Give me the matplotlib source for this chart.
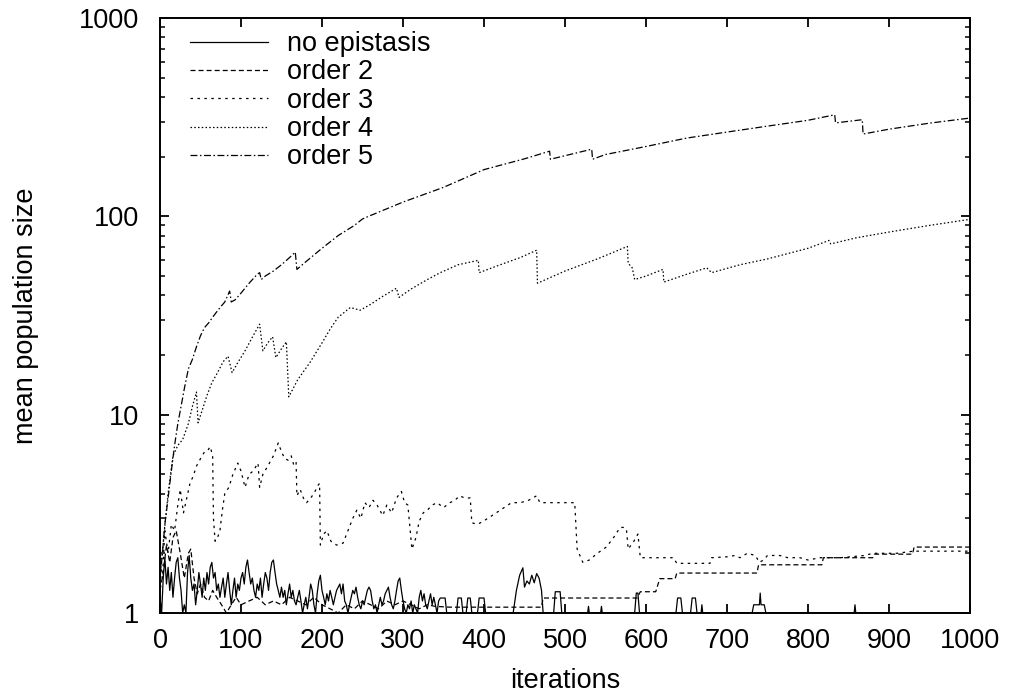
import numpy as np
import matplotlib
matplotlib.use("Agg")
from matplotlib import pyplot as plt
from matplotlib.ticker import FixedLocator, LogLocator, NullFormatter

plt.rcParams['font.family'] = ['Liberation Sans', 'DejaVu Sans']
plt.rcParams['lines.scale_dashes'] = False

# no epistasis: noisy part on a 2-iteration grid, then sparse blips
noep_x_grid = np.arange(0, 352, 2)
noep_y_grid = [
    1.2, 1.0, 1.5, 1.9, 1.4, 1.7, 1.3, 1.6, 1.2, 1.5,
    1.8, 1.9, 1.5, 1.3, 1.0, 1.1, 1.0, 1.6, 1.95, 1.5,
    1.3, 1.4, 1.1, 1.3, 1.6, 1.4, 1.2, 1.5, 1.3, 1.6,
    1.4, 1.7, 1.8, 1.5, 1.6, 1.3, 1.4, 1.2, 1.35, 1.5,
    1.2, 1.4, 1.6, 1.3, 1.1, 1.3, 1.5, 1.2, 1.4, 1.3,
    1.5, 1.6, 1.4, 1.7, 1.85, 1.6, 1.4, 1.5, 1.3, 1.2,
    1.4, 1.3, 1.5, 1.2, 1.4, 1.6, 1.5, 1.3, 1.6, 1.8,
    1.85, 1.6, 1.4, 1.3, 1.2, 1.35, 1.2, 1.3, 1.1, 1.25,
    1.4, 1.2, 1.3, 1.15, 1.1, 1.2, 1.3, 1.15, 1.0, 1.1,
    1.2, 1.05, 1.2, 1.4, 1.3, 1.1, 1.0, 1.25, 1.45, 1.55,
    1.3, 1.2, 1.1, 1.25, 1.15, 1.3, 1.2, 1.1, 1.2, 1.3,
    1.35, 1.4, 1.25, 1.4, 1.15, 1.1, 1.0, 1.1, 1.2, 1.3,
    1.25, 1.35, 1.2, 1.1, 1.05, 1.15, 1.1, 1.2, 1.3, 1.35,
    1.3, 1.15, 1.05, 1.1, 1.0, 1.1, 1.2, 1.1, 1.15, 1.25,
    1.3, 1.35, 1.2, 1.1, 1.05, 1.15, 1.3, 1.45, 1.5, 1.3,
    1.15, 1.05, 1.0, 1.1, 1.05, 1.15, 1.0, 1.1, 1.05, 1.0,
    1.2, 1.3, 1.15, 1.25, 1.1, 1.05, 1.15, 1.25, 1.1, 1.2,
    1.1, 1.0, 1.15, 1.19, 1.19, 1.19,
]
noep_x_tail = [352, 354, 366, 368, 372, 374, 378, 380, 383, 385, 392, 394, 400, 402,
               436, 440, 444, 448, 450, 453, 456, 459, 462, 465, 468, 471, 473,
               486, 488, 494, 496, 528, 529, 530, 544, 545, 546, 586, 588, 590, 592,
               637, 639, 643, 645, 655, 657, 661, 663, 668, 669, 670,
               731, 733, 740, 741, 742, 746, 748, 857, 858, 859, 1000]
noep_y_tail = [1.19, 1.0, 1.0, 1.19, 1.19, 1.0, 1.0, 1.19, 1.19, 1.0, 1.0, 1.19, 1.19, 1.0,
               1.0, 1.3, 1.55, 1.69, 1.35, 1.45, 1.4, 1.55, 1.42, 1.58, 1.5, 1.3, 1.0,
               1.0, 1.28, 1.28, 1.0, 1.0, 1.08, 1.0, 1.0, 1.08, 1.0, 1.0, 1.26, 1.26, 1.0,
               1.0, 1.19, 1.19, 1.0, 1.0, 1.19, 1.19, 1.0, 1.0, 1.1, 1.0,
               1.0, 1.1, 1.1, 1.26, 1.1, 1.1, 1.0, 1.0, 1.1, 1.0, 1.0]

ord2_x = [0, 4, 8, 12, 16, 20, 25, 30, 35, 38, 42, 46, 50, 55, 60, 65, 70, 76, 82, 88,
          94, 100, 110, 120, 130, 140, 150, 160, 170, 180, 190, 200, 210, 220, 230, 240,
          250, 260, 270, 280, 290, 300, 310, 320, 330, 340, 358, 471, 473, 589, 593, 612,
          617, 636, 638, 737, 739, 817, 819, 880, 882, 929, 931, 1000]
ord2_y = [1.3, 1.6, 2.2, 1.8, 2.4, 2.6, 2.0, 1.5, 2.0, 2.1, 1.5, 1.25, 1.4, 1.2, 1.15, 1.3,
          1.2, 1.1, 1.0, 1.1, 1.2, 1.1, 1.15, 1.2, 1.1, 1.15, 1.1, 1.2, 1.15, 1.1, 1.2, 1.1,
          1.05, 1.0, 1.1, 1.05, 1.15, 1.1, 1.05, 1.15, 1.1, 1.15, 1.1, 1.05, 1.1, 1.08, 1.07,
          1.07, 1.19, 1.19, 1.28, 1.28, 1.49, 1.49, 1.59, 1.59, 1.75, 1.75, 1.9, 1.9, 1.98,
          1.98, 2.15, 2.15]

ord3_x = [0, 3, 6, 10, 14, 18, 22, 25, 29, 33, 37, 41, 45, 50, 55, 59, 62, 65, 66, 68,
          71, 74, 77, 80, 85, 90, 96, 100, 105, 110, 115, 121, 123, 127, 133, 140, 146,
          150, 154, 158, 162, 165, 168, 169, 173, 177, 181, 186, 190, 195, 197, 198, 202,
          206, 211, 218, 226, 232, 238, 243, 248, 253, 258, 263, 268, 275, 280, 286, 292,
          298, 302, 306, 311, 316, 320, 325, 330, 336, 342, 350, 358, 364, 370, 376, 383,
          385, 392, 399, 410, 420, 434, 445, 455, 465, 469, 480, 512, 515, 522, 530, 540,
          551, 560, 568, 574, 576, 578, 585, 590, 593, 634, 638, 679, 681, 700, 710, 716,
          725, 735, 740, 745, 750, 765, 775, 790, 800, 815, 840, 870, 880, 910, 930, 1000]
ord3_y = [1.8, 1.5, 2.6, 2.0, 2.8, 2.6, 3.5, 4.2, 3.2, 3.8, 4.5, 4.9, 5.5, 6.0, 6.5, 6.6,
          6.9, 6.2, 3.0, 2.3, 2.4, 2.6, 3.3, 4.0, 4.3, 5.0, 5.7, 5.2, 4.3, 5.0, 5.2, 5.7,
          4.3, 5.0, 5.5, 6.2, 7.2, 6.5, 6.0, 5.9, 6.2, 5.6, 5.8, 3.9, 4.2, 3.8, 3.6, 3.8,
          4.0, 4.4, 4.5, 2.2, 2.5, 2.6, 2.3, 2.2, 2.25, 2.6, 3.0, 3.3, 3.0, 3.6, 3.4, 3.7,
          3.5, 3.1, 3.5, 3.2, 3.8, 4.1, 3.6, 3.5, 2.1, 2.4, 2.9, 3.2, 3.3, 3.5, 3.6, 3.4,
          3.6, 3.7, 3.9, 3.8, 3.8, 2.85, 2.8, 2.9, 3.1, 3.3, 3.6, 3.6, 3.7, 3.9, 3.6, 3.6,
          3.6, 2.1, 1.8, 1.85, 2.0, 2.15, 2.4, 2.7, 2.7, 2.6, 2.1, 2.3, 2.5, 1.9, 1.9, 1.78,
          1.78, 1.9, 1.92, 1.95, 1.9, 2.0, 1.95, 1.8, 1.85, 1.95, 1.95, 1.9, 1.9, 1.85, 1.9,
          1.9, 1.95, 2.0, 2.0, 2.05, 2.05]

ord4_x = [0, 5, 10, 16, 22, 28, 35, 40, 45, 47, 52, 58, 64, 70, 78, 84, 89, 95, 105, 115,
          123, 127, 133, 139, 143, 150, 156, 159, 170, 185, 200, 210, 220, 235, 247, 260,
          275, 292, 295, 310, 330, 346, 368, 393, 394, 420, 445, 465, 466, 500, 540, 577,
          578, 583, 586, 600, 621, 622, 650, 675, 681, 716, 750, 800, 826, 828, 860, 905,
          950, 1000]
ord4_y = [1.5, 2.5, 4.0, 6.2, 7.0, 7.5, 9.0, 11, 13, 9.1, 10.5, 12.5, 14.5, 16, 18.5, 19.7,
          16.3, 18, 21, 25, 28.6, 21, 23, 24.7, 19.4, 21.5, 23.3, 12.3, 15, 18.3, 23, 27,
          31, 34.7, 33.6, 36, 39.5, 43.4, 39, 43, 48, 52, 57, 60, 52, 57, 62, 67.5, 46, 53,
          61, 70.5, 58, 55, 48, 50, 54, 46.6, 51, 55, 52, 57, 61, 69, 75.6, 72.6, 78, 84,
          90, 96.6]

ord5_x = [0, 3, 6, 10, 14, 18, 22, 26, 30, 35, 40, 45, 50, 55, 60, 65, 70, 75, 80, 86,
          88, 93, 100, 110, 120, 123, 125, 130, 140, 150, 160, 167, 169, 180, 200, 220,
          240, 250, 260, 300, 350, 400, 450, 481, 482, 533, 534, 550, 600, 650, 700, 750,
          800, 833, 834, 867, 868, 900, 950, 1000]
ord5_y = [1.5, 2.0, 2.8, 3.8, 5.2, 7, 9, 11, 13.5, 17, 19, 22, 25, 27.5, 29, 31, 33, 35,
          37, 42, 37, 38, 41, 46, 51, 52, 48, 50, 53, 57, 62, 66, 54, 59, 69, 80, 90, 97,
          101, 118, 140, 172, 195, 213, 194, 218, 194, 205, 225, 248, 266, 285, 305, 325,
          296, 307, 260, 275, 295, 313]

labels = ['no epistasis', 'order 2', 'order 3', 'order 4', 'order 5']
fs = 19.5

fig = plt.figure(figsize=(10.11, 6.99), dpi=100)
ax = fig.add_axes([160 / 1011, 1 - 613 / 699, 810 / 1011, 595 / 699])

noep_x = list(noep_x_grid) + noep_x_tail
noep_y = noep_y_grid + noep_y_tail
lw = 0.9
ax.plot(noep_x, noep_y, color='black', lw=lw, linestyle='-', label=labels[0])
ax.plot(ord2_x, ord2_y, color='black', lw=lw, linestyle=(0, (3.6, 2.2)), label=labels[1])
ax.plot(ord3_x, ord3_y, color='black', lw=lw, linestyle=(0, (1.8, 3.2)), label=labels[2])
ax.plot(ord4_x, ord4_y, color='black', lw=lw, linestyle=(0, (1.1, 1.6)), label=labels[3])
ax.plot(ord5_x, ord5_y, color='black', lw=lw, linestyle=(0, (5, 1.8, 1.1, 1.8)), label=labels[4])

ax.set_yscale('log')
ax.set_xlim(0, 1000)
ax.set_ylim(1, 1000)
ax.xaxis.set_major_locator(FixedLocator(range(0, 1001, 100)))
ax.yaxis.set_major_locator(FixedLocator([1, 10, 100, 1000]))
ax.set_yticklabels(['1', '10', '100', '1000'])
ax.yaxis.set_minor_locator(LogLocator(base=10, subs=range(2, 10)))
ax.yaxis.set_minor_formatter(NullFormatter())
ax.tick_params(which='major', direction='in', length=6.5, width=1.3,
               top=True, right=True, labelsize=fs)
ax.tick_params(which='minor', direction='in', length=3.6, width=1.1,
               left=True, right=True)
ax.tick_params(axis='x', pad=11)
ax.tick_params(axis='y', pad=15)
for s in ax.spines.values():
    s.set_linewidth(1.4)

ax.set_xlabel('iterations', fontsize=fs)
ax.set_ylabel('mean population size', fontsize=fs)
ax.xaxis.set_label_coords(0.5, -0.0924)
ax.yaxis.set_label_coords(-0.149, 0.5)

ax.legend(loc='upper left', bbox_to_anchor=(0.037, 0.978), frameon=False, fontsize=fs,
          handlelength=2.88, handletextpad=0.7, labelspacing=0.085,
          borderpad=0, borderaxespad=0)

fig.savefig('out.png', dpi=100)
